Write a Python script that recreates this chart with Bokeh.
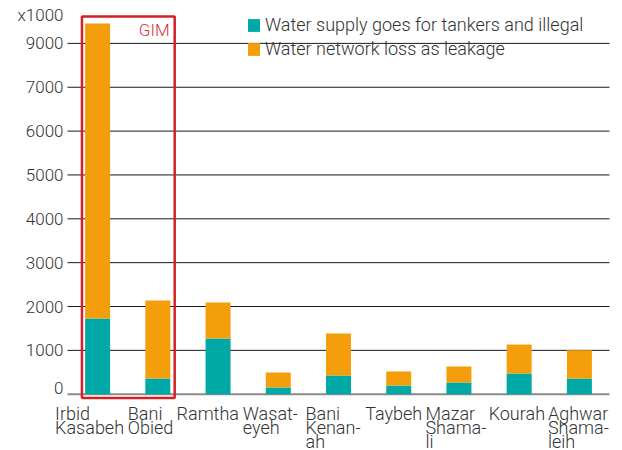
from bokeh.plotting import figure
from bokeh.models import Range1d, BoxAnnotation, Label, ColumnDataSource
from bokeh.core.properties import value
from bokeh.embed import file_html
from bokeh.resources import INLINE

# ---- data (in axis units) ----
categories = ["Irbid Kasabeh", "Bani Obied", "Ramtha", "Wasateyeh", "Bani Kenanah",
              "Taybeh", "Mazar Shamali", "Kourah", "Aghwar Shamaleih"]
tick_labels = ["Irbid\nKasabeh", "Bani\nObied", "Ramtha", "Wasat-\neyeh", "Bani\nKenan-\nah",
               "Taybeh", "Mazar\nShama-\nli", "Kourah", "Aghwar\nShama-\nleih"]
tankers_illegal = [1726, 358, 1270, 153, 426, 198, 267, 472, 358]
network_leakage = [6727, 1779, 821, 342, 958, 320, 365, 661, 645]
y_ticks = [0, 1000, 2000, 3000, 4000, 5000, 6000, 7000, 8000]
y_tick_labels = ["0", "1000", "2000", "3000", "4000", "5000", "6000", "7000", "9000"]
series_names = ["Water supply goes for tankers and illegal", "Water network loss as leakage"]
highlight_groups = ["Irbid Kasabeh", "Bani Obied"]
highlight_label = "GIM"
unit_label = "x1000"
unit_label_pos = 8648

# ---- styles / layout ----
W, H = 622, 450
PLOT_LEFT, PLOT_RIGHT = 67, 609          # px extent of the category area
ZERO_Y, PX_PER_1000 = 393.7, 43.85        # px position of y=0 and vertical scale
TEAL = "#00a8a6"
ORANGE = "#f59e0b"
RED = "#d42027"
TEXT = "#333333"
FONT_NAME = "Roboto Light, Roboto"
FONT = value(FONT_NAME)
label_dx = [-42.5, -30, -41.5, -35.5, -33, -33.5, -33.5, -30.5, -31.5]
ytick_dy = [-6, 0, 0, 0, 0, 0, 0, 0, 0]

n = len(categories)
px_per_cat = (PLOT_RIGHT - PLOT_LEFT) / n
x_start = -PLOT_LEFT / px_per_cat
x_end = n + (W - PLOT_RIGHT) / px_per_cat
y_end = ZERO_Y / PX_PER_1000 * 1000
y_start = -(H - ZERO_Y) / PX_PER_1000 * 1000

xpos = [i + 0.5 for i in range(n)]
source = ColumnDataSource(dict(x=xpos, cat=categories, tank=tankers_illegal,
                               leak=network_leakage, lab=tick_labels, dx=label_dx))

p = figure(width=W, height=H, output_backend="svg", toolbar_location=None,
           x_range=Range1d(x_start, x_end), y_range=Range1d(y_start, y_end),
           min_border=0)
p.outline_line_color = None
p.axis.visible = False
p.grid.visible = False
p.background_fill_color = "white"
p.border_fill_color = "white"

# grid lines across the category area, and the zero line
grid_src = ColumnDataSource(dict(y=y_ticks[1:]))
p.segment(x0=0, x1=n, y0="y", y1="y", source=grid_src, line_color="#1a1a1a", line_width=1)
p.segment(x0=0, x1=n, y0=0, y1=0, line_color="#8a8a8a", line_width=2)

# stacked bars
p.vbar_stack(["tank", "leak"], x="x", width=0.415, source=source,
             color=[TEAL, ORANGE], line_color=None, legend_label=series_names)

# y tick labels
ytick_src = ColumnDataSource(dict(y=y_ticks, t=y_tick_labels, dy=ytick_dy))
p.text(x=0, y="y", text="t", source=ytick_src, x_offset=-4, y_offset="dy",
       text_align="right", text_baseline="middle", text_font=FONT,
       text_font_size="17px", text_color=TEXT)
p.text(x=0, y=unit_label_pos, text=[unit_label], x_offset=-4, text_align="right",
       text_baseline="middle", text_font=FONT, text_font_size="17px", text_color=TEXT)

# x category labels (left aligned blocks below each bar)
p.text(x="x", y=-190, text="lab", x_offset="dx", source=source, text_align="left",
       text_baseline="top", text_font=FONT, text_font_size="18px",
       text_color=TEXT, text_line_height=0.67)

# highlight box
i0 = categories.index(highlight_groups[0])
i1 = categories.index(highlight_groups[-1])
p.add_layout(BoxAnnotation(left=i0 + 0.24, right=i1 + 0.78, bottom=-87, top=8613,
                           fill_alpha=0, line_color=RED, line_alpha=1, line_width=2.5))
p.add_layout(Label(x=i1 + 0.78, y=8613, x_offset=-5, y_offset=-3, text=highlight_label,
                   text_align="right", text_baseline="top", text_font=FONT_NAME,
                   text_font_size="17px", text_color="#d9343c"))

# legend
lg = p.legend[0]
lg.location = (246, 391)
lg.background_fill_alpha = 0
lg.border_line_color = None
lg.padding = 0
lg.margin = 0
lg.spacing = 3
lg.glyph_width = 15
lg.glyph_height = 16
lg.label_height = 20
lg.label_standoff = 4
lg.label_text_font = FONT_NAME
lg.label_text_font_size = "18px"
lg.label_text_color = TEXT

open("out.html", "w").write(file_html(p, INLINE))
